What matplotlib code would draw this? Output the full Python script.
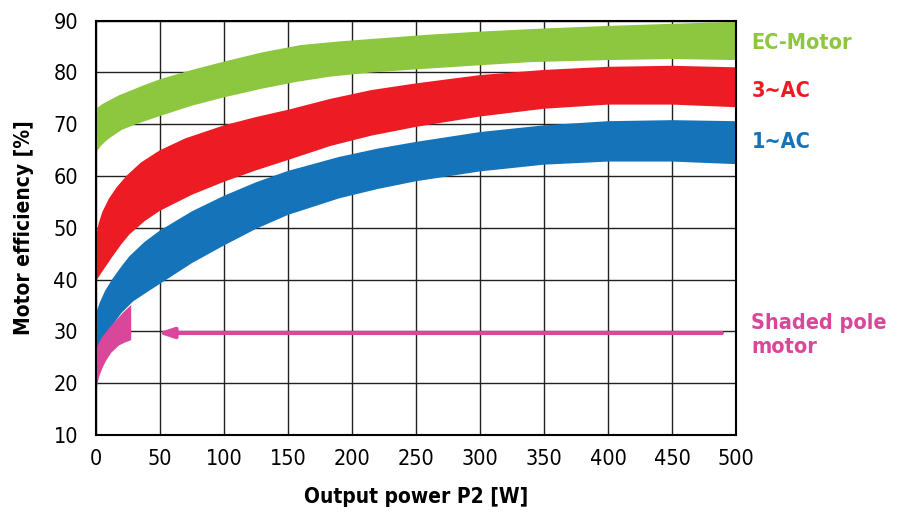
import numpy as np
import matplotlib.pyplot as plt

plt.rcParams['font.family'] = ['DejaVu Sans']
plt.rcParams['font.stretch'] = 'condensed'

# band edges (output power W -> efficiency %)
ec_top_x = [0, 5, 11, 18, 26, 38, 50, 75, 100, 130, 160, 190, 222, 260, 300, 350, 400, 450, 500]
ec_top_y = [73.0, 73.9, 74.7, 75.6, 76.4, 77.6, 78.7, 80.5, 82.1, 83.9, 85.3, 86.0, 86.6, 87.3, 87.9, 88.5, 89.0, 89.4, 89.8]
ec_bot_x = [0, 3, 7, 11, 20, 31, 50, 75, 100, 130, 157, 183, 215, 250, 300, 339, 400, 450, 500]
ec_bot_y = [64.4, 65.6, 66.6, 67.4, 68.9, 70.0, 71.6, 73.6, 75.2, 76.9, 78.2, 79.2, 80.0, 80.6, 81.4, 82.0, 82.4, 82.6, 82.4]

ac3_top_x = [0, 2, 5, 10, 16, 24, 35, 50, 70, 100, 125, 150, 183, 215, 250, 300, 350, 400, 450, 500]
ac3_top_y = [48.2, 50.8, 53.1, 55.6, 57.8, 60.1, 62.6, 65.0, 67.3, 69.8, 71.4, 72.8, 74.9, 76.6, 77.9, 79.5, 80.5, 81.1, 81.3, 81.0]
ac3_bot_x = [0, 5, 13, 20, 26, 38, 50, 75, 100, 125, 150, 183, 215, 250, 300, 350, 400, 450, 500]
ac3_bot_y = [39.7, 41.6, 44.5, 46.9, 48.7, 51.3, 53.3, 56.4, 58.9, 61.1, 63.1, 65.8, 67.8, 69.5, 71.5, 73.0, 73.8, 73.8, 73.3]

ac1_top_x = [0, 3, 7, 13, 20, 26, 38, 50, 75, 100, 125, 150, 190, 220, 250, 300, 350, 400, 450, 500]
ac1_top_y = [33.5, 35.6, 37.8, 40.2, 42.6, 44.5, 47.3, 49.5, 53.2, 56.2, 58.8, 61.0, 63.7, 65.3, 66.6, 68.5, 69.8, 70.6, 70.8, 70.6]
ac1_bot_x = [0, 5, 10, 20, 29, 40, 50, 75, 100, 125, 150, 190, 220, 250, 300, 350, 400, 450, 500]
ac1_bot_y = [24.0, 27.5, 30.2, 33.6, 35.8, 37.6, 39.2, 43.2, 46.6, 49.8, 52.5, 55.7, 57.5, 59.0, 60.9, 62.2, 62.8, 62.8, 62.3]

sp_top_x = [0, 2, 5, 8, 12, 16, 21, 27.5]
sp_top_y = [26.4, 27.7, 29.0, 29.9, 31.1, 32.2, 33.6, 35.1]
sp_bot_x = [0, 1, 2.5, 5, 8, 12, 18, 23, 27.5]
sp_bot_y = [18.0, 19.6, 21.3, 22.9, 24.4, 25.9, 27.3, 27.9, 28.3]

arrow_y = 29.7
arrow_from = 489
arrow_to = 48

green = '#8dc63f'
red = '#ed1c24'
blue = '#1574b9'
pink = '#d9479b'

fig = plt.figure(figsize=(8.98, 5.14), dpi=100)
ax = fig.add_axes([0.1069, 0.1537, 0.7127, 0.806])


def band(tx, ty, bx, by, color):
    xs = list(tx) + list(bx)[::-1]
    ys = list(ty) + list(by)[::-1]
    ax.fill(xs, ys, color=color, lw=0, zorder=2)


band(ec_top_x, ec_top_y, ec_bot_x, ec_bot_y, green)
band(ac3_top_x, ac3_top_y, ac3_bot_x, ac3_bot_y, red)
band(ac1_top_x, ac1_top_y, ac1_bot_x, ac1_bot_y, blue)
band(sp_top_x, sp_top_y, sp_bot_x, sp_bot_y, pink)

ax.annotate('', xy=(arrow_to, arrow_y), xytext=(arrow_from, arrow_y),
            arrowprops=dict(arrowstyle='-|>,head_length=0.9,head_width=0.3',
                            color=pink, lw=3.0, shrinkA=0, shrinkB=0),
            zorder=3)

ax.set_xlim(0, 500)
ax.set_ylim(10, 90)
ax.set_xticks(np.arange(0, 501, 50))
ax.set_yticks(np.arange(10, 91, 10))
ax.tick_params(length=0, labelsize=15.5, pad=10)
ax.tick_params(axis='y', pad=13)
ax.grid(True, color='#222222', lw=1.0)
ax.set_axisbelow(True)
for s in ax.spines.values():
    s.set_linewidth(1.5)
    s.set_zorder(4)

ax.set_xlabel('Output power P2 [W]', fontsize=15, fontweight='bold', labelpad=13)
ax.set_ylabel('Motor efficiency [%]', fontsize=15, fontweight='bold', labelpad=14)

lab = dict(fontsize=15.5, fontweight='bold', transform=ax.transData,
           ha='left', va='center', clip_on=False)
ax.text(512, 85.6, 'EC-Motor', color=green, **lab)
ax.text(512, 76.5, '3~AC', color=red, **lab)
ax.text(512, 66.5, '1~AC', color=blue, **lab)
ax.text(512, 29.3, 'Shaded pole\nmotor', color=pink, linespacing=1.3, **lab)

fig.savefig('out.png', dpi=100)
